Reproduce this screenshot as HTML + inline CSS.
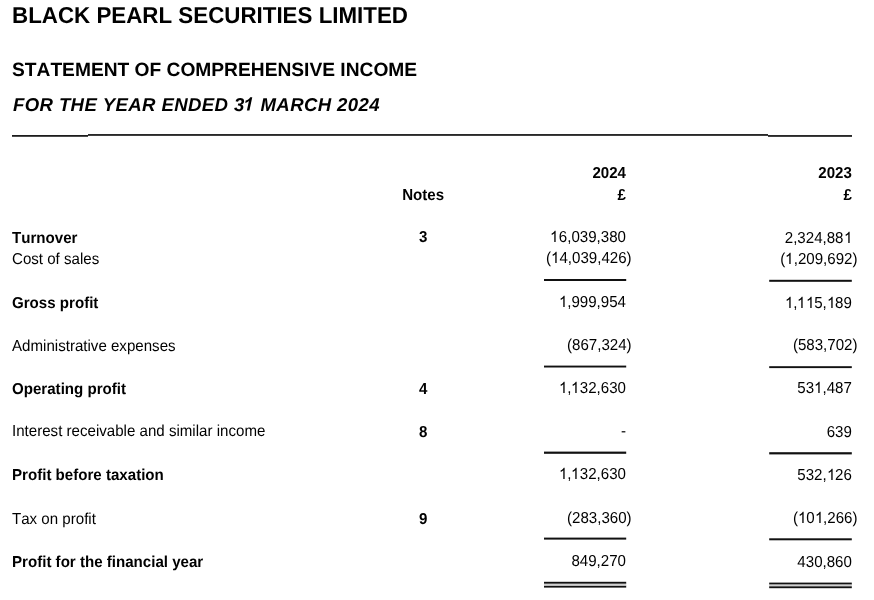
<!DOCTYPE html>
<html>
<head>
<meta charset="utf-8">
<style>
html,body{margin:0;padding:0;background:#fff;}
body{width:874px;height:600px;position:relative;overflow:hidden;font-family:"Liberation Sans",sans-serif;color:#000;filter:grayscale(1);text-rendering:geometricPrecision;}
.t{position:absolute;white-space:nowrap;line-height:1;font-kerning:none;}
.ov{position:absolute;left:0;top:0;}
.o1{display:inline-block;width:0.55615em;height:0.73242em;vertical-align:baseline;fill:currentColor;overflow:visible;}
</style>
</head>
<body>
<div class="t" style="top:5.000px;font-size:22.35px;left:12px;font-weight:bold;transform:scale(1.0,1.03);transform-origin:0 18px;">BLACK PEARL SECURITIES LIMITED</div>
<div class="t" style="top:61.000px;font-size:19.2px;left:12px;font-weight:bold;">STATEMENT OF COMPREHENSIVE INCOME</div>
<div class="t" style="top:96.000px;font-size:18.6px;left:13px;font-weight:bold;font-style:italic;letter-spacing:0.37px;">FOR THE YEAR ENDED 3<svg class="o1" viewBox="0 -1500 1139 1500"><path transform="scale(1,-1) skewX(12) translate(-330,0)" d="M817 0H536V1059Q382 915 173 846V1101Q283 1137 412 1237T589 1472H817Z"/></svg> MARCH 2024</div>
<div class="t" style="top:166.000px;font-size:15.1px;right:248.00px;text-align:right;font-weight:bold;transform:scale(1.0,1.05);transform-origin:0 12px;">2024</div>
<div class="t" style="top:166.000px;font-size:15.1px;right:22.10px;text-align:right;font-weight:bold;transform:scale(1.0,1.05);transform-origin:0 12px;">2023</div>
<div class="t" style="top:188.000px;font-size:15.1px;left:363.20px;width:120px;text-align:center;font-weight:bold;transform:scale(1.0,1.05);transform-origin:0 12px;">Notes</div>
<div class="t" style="top:188.000px;font-size:15.1px;right:248.00px;text-align:right;font-weight:bold;transform:scale(1.0,1.05);transform-origin:0 12px;">£</div>
<div class="t" style="top:188.000px;font-size:15.1px;right:22.10px;text-align:right;font-weight:bold;transform:scale(1.0,1.05);transform-origin:0 12px;">£</div>
<div class="t" style="top:231.000px;font-size:15.1px;left:12px;font-weight:bold;transform:scale(1.0,1.05);transform-origin:0 12px;">Turnover</div>
<div class="t" style="top:230.000px;font-size:15.1px;left:363.20px;width:120px;text-align:center;font-weight:bold;transform:scale(1.0,1.05);transform-origin:0 12px;">3</div>
<div class="t" style="top:230.000px;font-size:15.1px;right:248.00px;text-align:right;transform:scale(1.0,1.05);transform-origin:0 12px;"><svg class="o1" viewBox="0 -1500 1139 1500"><path transform="scale(1,-1)" d="M763 0H583V1147Q518 1085 412.5 1023T223 930V1104Q374 1175 487 1276T647 1472H763Z"/></svg>6,039,380</div>
<div class="t" style="top:231.000px;font-size:15.1px;right:22.10px;text-align:right;transform:scale(1.0,1.05);transform-origin:0 12px;">2,324,88<svg class="o1" viewBox="0 -1500 1139 1500"><path transform="scale(1,-1)" d="M763 0H583V1147Q518 1085 412.5 1023T223 930V1104Q374 1175 487 1276T647 1472H763Z"/></svg></div>
<div class="t" style="top:252.000px;font-size:15.1px;left:12px;transform:scale(1.0,1.05);transform-origin:0 12px;">Cost of sales</div>
<div class="t" style="top:251.000px;font-size:15.1px;right:242.40px;text-align:right;transform:scale(1.0,1.05);transform-origin:0 12px;">(<svg class="o1" viewBox="0 -1500 1139 1500"><path transform="scale(1,-1)" d="M763 0H583V1147Q518 1085 412.5 1023T223 930V1104Q374 1175 487 1276T647 1472H763Z"/></svg>4,039,426)</div>
<div class="t" style="top:252.000px;font-size:15.1px;right:16.50px;text-align:right;transform:scale(1.0,1.05);transform-origin:0 12px;">(<svg class="o1" viewBox="0 -1500 1139 1500"><path transform="scale(1,-1)" d="M763 0H583V1147Q518 1085 412.5 1023T223 930V1104Q374 1175 487 1276T647 1472H763Z"/></svg>,209,692)</div>
<div class="t" style="top:296.000px;font-size:15.1px;left:12px;font-weight:bold;transform:scale(1.0,1.05);transform-origin:0 12px;">Gross profit</div>
<div class="t" style="top:295.000px;font-size:15.1px;right:248.00px;text-align:right;transform:scale(1.0,1.05);transform-origin:0 12px;"><svg class="o1" viewBox="0 -1500 1139 1500"><path transform="scale(1,-1)" d="M763 0H583V1147Q518 1085 412.5 1023T223 930V1104Q374 1175 487 1276T647 1472H763Z"/></svg>,999,954</div>
<div class="t" style="top:296.000px;font-size:15.1px;right:22.10px;text-align:right;transform:scale(1.0,1.05);transform-origin:0 12px;"><svg class="o1" viewBox="0 -1500 1139 1500"><path transform="scale(1,-1)" d="M763 0H583V1147Q518 1085 412.5 1023T223 930V1104Q374 1175 487 1276T647 1472H763Z"/></svg>,<svg class="o1" viewBox="0 -1500 1139 1500"><path transform="scale(1,-1)" d="M763 0H583V1147Q518 1085 412.5 1023T223 930V1104Q374 1175 487 1276T647 1472H763Z"/></svg><svg class="o1" viewBox="0 -1500 1139 1500"><path transform="scale(1,-1)" d="M763 0H583V1147Q518 1085 412.5 1023T223 930V1104Q374 1175 487 1276T647 1472H763Z"/></svg>5,<svg class="o1" viewBox="0 -1500 1139 1500"><path transform="scale(1,-1)" d="M763 0H583V1147Q518 1085 412.5 1023T223 930V1104Q374 1175 487 1276T647 1472H763Z"/></svg>89</div>
<div class="t" style="top:339.000px;font-size:15.1px;left:12px;transform:scale(1.0,1.05);transform-origin:0 12px;">Administrative expenses</div>
<div class="t" style="top:338.000px;font-size:15.1px;right:242.40px;text-align:right;transform:scale(1.0,1.05);transform-origin:0 12px;">(867,324)</div>
<div class="t" style="top:338.000px;font-size:15.1px;right:16.50px;text-align:right;transform:scale(1.0,1.05);transform-origin:0 12px;">(583,702)</div>
<div class="t" style="top:382.000px;font-size:15.1px;left:12px;font-weight:bold;transform:scale(1.0,1.05);transform-origin:0 12px;">Operating profit</div>
<div class="t" style="top:382.000px;font-size:15.1px;left:363.20px;width:120px;text-align:center;font-weight:bold;transform:scale(1.0,1.05);transform-origin:0 12px;">4</div>
<div class="t" style="top:381.000px;font-size:15.1px;right:248.00px;text-align:right;transform:scale(1.0,1.05);transform-origin:0 12px;"><svg class="o1" viewBox="0 -1500 1139 1500"><path transform="scale(1,-1)" d="M763 0H583V1147Q518 1085 412.5 1023T223 930V1104Q374 1175 487 1276T647 1472H763Z"/></svg>,<svg class="o1" viewBox="0 -1500 1139 1500"><path transform="scale(1,-1)" d="M763 0H583V1147Q518 1085 412.5 1023T223 930V1104Q374 1175 487 1276T647 1472H763Z"/></svg>32,630</div>
<div class="t" style="top:381.000px;font-size:15.1px;right:22.10px;text-align:right;transform:scale(1.0,1.05);transform-origin:0 12px;">53<svg class="o1" viewBox="0 -1500 1139 1500"><path transform="scale(1,-1)" d="M763 0H583V1147Q518 1085 412.5 1023T223 930V1104Q374 1175 487 1276T647 1472H763Z"/></svg>,487</div>
<div class="t" style="top:424.000px;font-size:15.1px;left:12px;transform:scale(1.0,1.05);transform-origin:0 12px;">Interest receivable and similar income</div>
<div class="t" style="top:425.000px;font-size:15.1px;left:363.20px;width:120px;text-align:center;font-weight:bold;transform:scale(1.0,1.05);transform-origin:0 12px;">8</div>
<div class="t" style="top:424.000px;font-size:15.1px;right:248.00px;text-align:right;transform:scale(1.0,1.05);transform-origin:0 12px;">-</div>
<div class="t" style="top:425.000px;font-size:15.1px;right:22.10px;text-align:right;transform:scale(1.0,1.05);transform-origin:0 12px;">639</div>
<div class="t" style="top:468.000px;font-size:15.1px;left:12px;font-weight:bold;transform:scale(1.0,1.05);transform-origin:0 12px;">Profit before taxation</div>
<div class="t" style="top:467.000px;font-size:15.1px;right:248.00px;text-align:right;transform:scale(1.0,1.05);transform-origin:0 12px;"><svg class="o1" viewBox="0 -1500 1139 1500"><path transform="scale(1,-1)" d="M763 0H583V1147Q518 1085 412.5 1023T223 930V1104Q374 1175 487 1276T647 1472H763Z"/></svg>,<svg class="o1" viewBox="0 -1500 1139 1500"><path transform="scale(1,-1)" d="M763 0H583V1147Q518 1085 412.5 1023T223 930V1104Q374 1175 487 1276T647 1472H763Z"/></svg>32,630</div>
<div class="t" style="top:468.000px;font-size:15.1px;right:22.10px;text-align:right;transform:scale(1.0,1.05);transform-origin:0 12px;">532,<svg class="o1" viewBox="0 -1500 1139 1500"><path transform="scale(1,-1)" d="M763 0H583V1147Q518 1085 412.5 1023T223 930V1104Q374 1175 487 1276T647 1472H763Z"/></svg>26</div>
<div class="t" style="top:512.000px;font-size:15.1px;left:12px;transform:scale(1.0,1.05);transform-origin:0 12px;">Tax on profit</div>
<div class="t" style="top:512.000px;font-size:15.1px;left:363.20px;width:120px;text-align:center;font-weight:bold;transform:scale(1.0,1.05);transform-origin:0 12px;">9</div>
<div class="t" style="top:511.000px;font-size:15.1px;right:242.40px;text-align:right;transform:scale(1.0,1.05);transform-origin:0 12px;">(283,360)</div>
<div class="t" style="top:511.000px;font-size:15.1px;right:16.50px;text-align:right;transform:scale(1.0,1.05);transform-origin:0 12px;">(<svg class="o1" viewBox="0 -1500 1139 1500"><path transform="scale(1,-1)" d="M763 0H583V1147Q518 1085 412.5 1023T223 930V1104Q374 1175 487 1276T647 1472H763Z"/></svg>0<svg class="o1" viewBox="0 -1500 1139 1500"><path transform="scale(1,-1)" d="M763 0H583V1147Q518 1085 412.5 1023T223 930V1104Q374 1175 487 1276T647 1472H763Z"/></svg>,266)</div>
<div class="t" style="top:555.000px;font-size:15.1px;left:12px;font-weight:bold;transform:scale(1.0,1.05);transform-origin:0 12px;">Profit for the financial year</div>
<div class="t" style="top:554.000px;font-size:15.1px;right:248.00px;text-align:right;transform:scale(1.0,1.05);transform-origin:0 12px;">849,270</div>
<div class="t" style="top:555.000px;font-size:15.1px;right:22.10px;text-align:right;transform:scale(1.0,1.05);transform-origin:0 12px;">430,860</div>
<svg class="ov" width="874" height="600" viewBox="0 0 874 600"><rect x="12" y="135.05" width="76.00" height="1.7" fill="#111"/><rect x="88" y="134.1" width="680.00" height="1.7" fill="#111"/><rect x="768" y="135.1" width="84.00" height="1.7" fill="#111"/><rect x="544" y="279.0" width="82.20" height="2.0" fill="#111"/><rect x="769.2" y="279.8" width="82.60" height="2.0" fill="#111"/><rect x="544" y="365.6" width="82.20" height="1.9" fill="#111"/><rect x="769.2" y="366.2" width="82.60" height="1.9" fill="#111"/><rect x="544" y="451.6" width="82.20" height="2.2" fill="#111"/><rect x="769.2" y="452.2" width="82.60" height="2.2" fill="#111"/><rect x="544" y="537.6" width="82.20" height="2.0" fill="#111"/><rect x="769.2" y="538.3" width="82.60" height="2.0" fill="#111"/><rect x="544" y="581.8" width="82.20" height="2.0" fill="#111"/><rect x="769.2" y="582.6" width="82.60" height="2.0" fill="#111"/><rect x="544" y="585.6" width="82.20" height="2.0" fill="#111"/><rect x="769.2" y="586.2" width="82.60" height="2.0" fill="#111"/><rect x="544" y="583.8" width="82.20" height="1.8" fill="#cfcfcf"/><rect x="769.2" y="584.6" width="82.60" height="1.6" fill="#cfcfcf"/></svg>
</body>
</html>
